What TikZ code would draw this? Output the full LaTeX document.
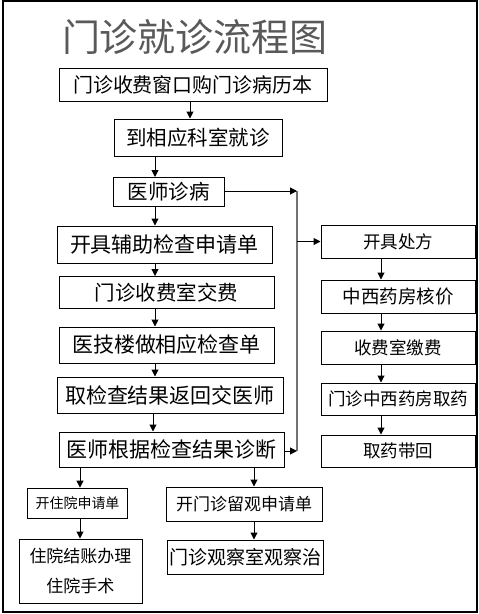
\documentclass[tikz,border=0pt]{standalone}
\usepackage{fontspec}
\setmainfont{Noto Sans CJK SC}
\usetikzlibrary{arrows.meta}
\tikzset{
  box/.style={draw=black, line width=1pt, inner sep=0pt, align=center, text=black},
  arr/.style={draw=black, line width=1pt, -{Triangle[length=7pt,width=7pt]}},
  vline/.style={draw=black!55, line width=1.2pt},
}
\newcommand{\fs}[1]{\fontsize{#1}{#1}\selectfont}
\begin{document}
\begin{tikzpicture}[x=1pt,y=-1pt]
\useasboundingbox (0,0) rectangle (479,614);
\draw[line width=1.5pt] (3,1) rectangle (477,612);
\node[text=black!65, font=\fs{38}] (title) at (195,37) {门诊就诊流程图};
% left column
\node[box, minimum width=268, minimum height=33, font=\fs{20}] (b1) at (193,84.5) {门诊收费窗口购门诊病历本};
\node[box, minimum width=168, minimum height=37, font=\fs{20.5}] (b2) at (198,137.5) {到相应科室就诊};
\node[box, minimum width=111, minimum height=29, font=\fs{20.5}] (b3) at (168.5,192) {医师诊病};
\node[box, minimum width=215, minimum height=37, font=\fs{21}] (b4) at (164.5,244.5) {开具辅助检查申请单};
\node[box, minimum width=215, minimum height=32, font=\fs{20.5}] (b5) at (166.5,292.5) {门诊收费室交费};
\node[box, minimum width=215, minimum height=36, font=\fs{21}] (b6) at (166.5,345) {医技楼做相应检查单};
\node[box, minimum width=226, minimum height=36, font=\fs{21}] (b7) at (170,395) {取检查结果返回交医师};
\node[box, minimum width=225, minimum height=35, font=\fs{21}] (b8) at (171.5,449.5) {医师根据检查结果诊断};
% right column
\node[box, minimum width=154, minimum height=33, font=\fs{17.5}] (r1) at (398,241.5) {开具处方};
\node[box, minimum width=154, minimum height=33, font=\fs{18.5}] (r2) at (398,296.5) {中西药房核价};
\node[box, minimum width=154, minimum height=33, font=\fs{17.5}] (r3) at (398,347.5) {收费室缴费};
\node[box, minimum width=154, minimum height=32, font=\fs{17.5}] (r4) at (398,399) {门诊中西药房取药};
\node[box, minimum width=154, minimum height=32, font=\fs{17.5}] (r5) at (398,451) {取药带回};
% bottom
\node[box, line width=1.8pt, minimum width=100, minimum height=30, font=\fs{14}] (h1) at (77.5,503.5) {开住院申请单};
\node[box, minimum width=123, minimum height=64, font=\fontsize{17}{30}\selectfont] (h2) at (80.5,571) {住院结账办理\\住院手术};
\node[box, minimum width=156, minimum height=34, font=\fs{17}] (o1) at (244,504) {开门诊留观申请单};
\node[box, minimum width=156, minimum height=34, font=\fs{19}] (o2) at (245,557) {门诊观察室观察治};
% coordinates of the side line
\coordinate (top) at (297,191);
\coordinate (bot) at (297,451);
\coordinate (mid) at (297,241.5);
% connectors
\draw[arr] (b1.south -| 190,0) -- (b2.north -| 190,0);
\draw[arr] (b2.south -| 155,0) -- (b3.north -| 155,0);
\draw[arr] (b3.south -| 155,0) -- (b4.north -| 155,0);
\draw[arr] (b4.south -| 155,0) -- (b5.north -| 155,0);
\draw[arr] (b5.south -| 155,0) -- (b6.north -| 155,0);
\draw[arr] (b6.south -| 155,0) -- (b7.north -| 155,0);
\draw[arr] (b7.south -| 153,0) -- (b8.north -| 153,0);
\draw[arr] (b8.south -| 80,0) -- (h1.north -| 80,0);
\draw[arr] (h1.south -| 80,0) -- (h2.north -| 80,0);
\draw[arr] (b8.south -| 254,0) -- (o1.north -| 254,0);
\draw[arr] (o1.south -| 254,0) -- (o2.north -| 254,0);
\draw[arr] (r1.south -| 381,0) -- (r2.north -| 381,0);
\draw[arr] (r2.south -| 381,0) -- (r3.north -| 381,0);
\draw[arr] (r3.south -| 381,0) -- (r4.north -| 381,0);
\draw[arr] (r4.south -| 381,0) -- (r5.north -| 381,0);
\draw[vline] (top) -- (bot);
\draw[arr] (b3.east |- top) -- (top);
\draw[arr] (b8.east |- bot) -- (bot);
\draw[arr] (mid) -- (r1.west);
\end{tikzpicture}
\end{document}
